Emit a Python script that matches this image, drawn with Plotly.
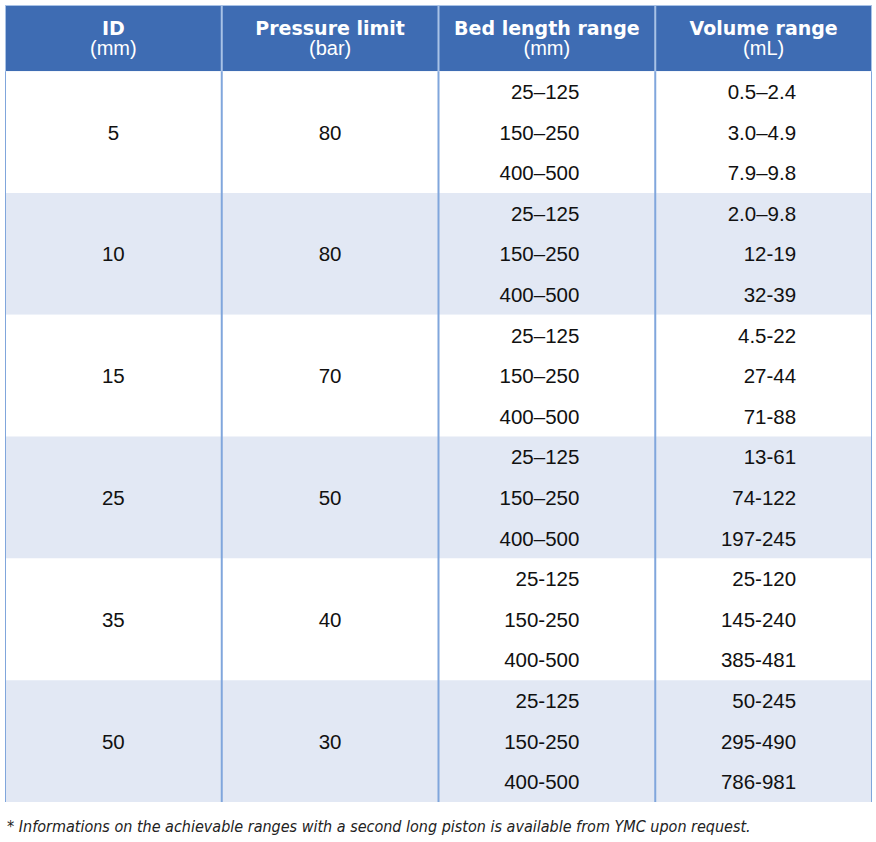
import plotly.graph_objects as go

# ---------------- data ----------------
header_main = ["ID", "Pressure limit", "Bed length range", "Volume range"]
header_unit = ["(mm)", "(bar)", "(mm)", "(mL)"]

ids = ["5", "10", "15", "25", "35", "50"]
pressure = ["80", "80", "70", "50", "40", "30"]

bed_length = [
    ["25–125", "150–250", "400–500"],
    ["25–125", "150–250", "400–500"],
    ["25–125", "150–250", "400–500"],
    ["25–125", "150–250", "400–500"],
    ["25-125", "150-250", "400-500"],
    ["25-125", "150-250", "400-500"],
]
volume = [
    ["0.5–2.4", "3.0–4.9", "7.9–9.8"],
    ["2.0–9.8", "12-19", "32-39"],
    ["4.5-22", "27-44", "71-88"],
    ["13-61", "74-122", "197-245"],
    ["25-120", "145-240", "385-481"],
    ["50-245", "295-490", "786-981"],
]
footnote = ("* Informations on the achievable ranges with a second long piston "
            "is available from YMC upon request.")

# ---------------- styling ----------------
HEADER_BG = "#3e6cb3"
BAND_BG = "#e2e8f4"
WHITE_BG = "#ffffff"
LINE_COL = "#80a6dc"
HEAD_LINE = "#a8c2e6"
TEXT_COL = "#111111"
BODY_FONT = "Liberation Sans, Arial, sans-serif"
HEAD_FONT = "DejaVu Sans, Verdana, sans-serif"

HEADER_H = 1.63          # header height in sub-row units
SUB = 3                  # sub-rows per group
n_groups = len(ids)
n_cols = len(header_main)
total_h = HEADER_H + n_groups * SUB
RIGHT_PAD = 0.35         # right alignment inset for range columns
TEXT_DY = 0.06           # small baseline adjustment

fig = go.Figure()
shapes = []

# header background
shapes.append(dict(type="rect", xref="x", yref="y", x0=0, x1=n_cols, y0=0, y1=HEADER_H,
                   fillcolor=HEADER_BG, line=dict(width=0), layer="below"))
# group bands
for g in range(n_groups):
    y0 = HEADER_H + g * SUB
    shapes.append(dict(type="rect", xref="x", yref="y", x0=0, x1=n_cols, y0=y0, y1=y0 + SUB,
                       fillcolor=BAND_BG if g % 2 else WHITE_BG, line=dict(width=0), layer="below"))
# top border
shapes.append(dict(type="line", xref="x", yref="y", x0=0, x1=n_cols, y0=0, y1=0,
                   line=dict(color=HEAD_LINE, width=2)))
# vertical lines
for c in range(n_cols + 1):
    shapes.append(dict(type="line", xref="x", yref="y", x0=c, x1=c, y0=0, y1=HEADER_H,
                       line=dict(color=HEAD_LINE, width=2)))
    shapes.append(dict(type="line", xref="x", yref="y", x0=c, x1=c, y0=HEADER_H, y1=total_h,
                       line=dict(color=LINE_COL, width=2)))

# header text
fig.add_trace(go.Scatter(
    x=[c + 0.5 for c in range(n_cols)], y=[HEADER_H * 0.34 + TEXT_DY] * n_cols,
    mode="text", text=[f"<b>{h}</b>" for h in header_main],
    textposition="middle center",
    textfont=dict(family=HEAD_FONT, size=19, color="white"),
    hoverinfo="skip", showlegend=False))
fig.add_trace(go.Scatter(
    x=[c + 0.5 for c in range(n_cols)], y=[HEADER_H * 0.66 + TEXT_DY / 2] * n_cols,
    mode="text", text=header_unit,
    textposition="middle center",
    textfont=dict(family=BODY_FONT, size=20, color="white"),
    hoverinfo="skip", showlegend=False))

# merged columns: ID and pressure
group_mid = [HEADER_H + g * SUB + SUB / 2 + TEXT_DY for g in range(n_groups)]
fig.add_trace(go.Scatter(
    x=[0.5] * n_groups, y=group_mid, mode="text", text=ids,
    textposition="middle center",
    textfont=dict(family=BODY_FONT, size=20.5, color=TEXT_COL),
    hoverinfo="skip", showlegend=False))
fig.add_trace(go.Scatter(
    x=[1.5] * n_groups, y=group_mid, mode="text", text=pressure,
    textposition="middle center",
    textfont=dict(family=BODY_FONT, size=20.5, color=TEXT_COL),
    hoverinfo="skip", showlegend=False))

# sub-row columns
sub_y = [HEADER_H + g * SUB + s + 0.5 + TEXT_DY for g in range(n_groups) for s in range(SUB)]
bed_flat = [v for grp in bed_length for v in grp]
vol_flat = [v for grp in volume for v in grp]
fig.add_trace(go.Scatter(
    x=[3 - RIGHT_PAD] * len(sub_y), y=sub_y, mode="text", text=bed_flat,
    textposition="middle left",
    textfont=dict(family=BODY_FONT, size=20.5, color=TEXT_COL),
    hoverinfo="skip", showlegend=False))
fig.add_trace(go.Scatter(
    x=[4 - RIGHT_PAD] * len(sub_y), y=sub_y, mode="text", text=vol_flat,
    textposition="middle left",
    textfont=dict(family=BODY_FONT, size=20.5, color=TEXT_COL),
    hoverinfo="skip", showlegend=False))

fig.update_layout(
    width=876, height=842,
    margin=dict(l=5, r=4, t=5, b=40),
    paper_bgcolor="white", plot_bgcolor="white",
    shapes=shapes,
    xaxis=dict(range=[0, n_cols], visible=False, fixedrange=True),
    yaxis=dict(range=[total_h, 0], visible=False, fixedrange=True),
    annotations=[dict(
        text=f"<i>{footnote}</i>", xref="paper", yref="paper",
        x=0, y=0, xanchor="left", yanchor="top", yshift=-13, xshift=0,
        showarrow=False,
        font=dict(family="Liberation Sans Narrow, DejaVu Sans Condensed, Arial Narrow, sans-serif",
                  size=16, color="#222222"))],
)

fig.write_html("out.html", config={"displayModeBar": False},
               post_script="document.body.style.margin='0';document.body.style.overflow='hidden';")
